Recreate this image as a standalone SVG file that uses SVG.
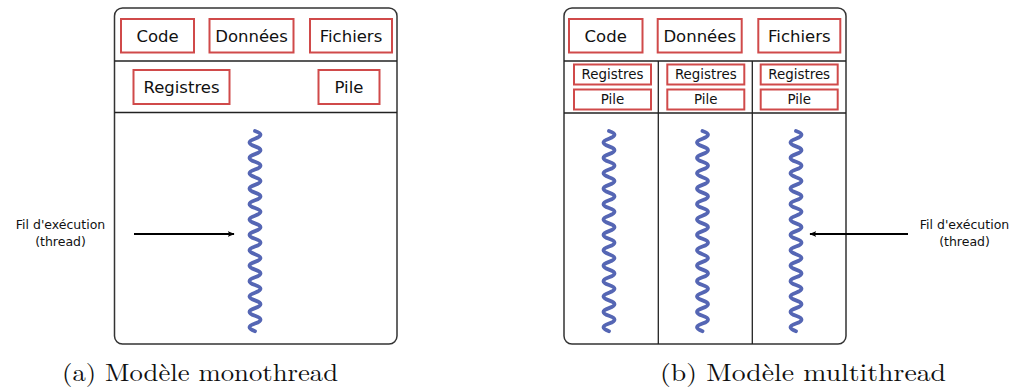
<svg xmlns="http://www.w3.org/2000/svg" width="1016" height="392" viewBox="0 0 1016 392">
<defs>
<style>
.frame{fill:#fff;stroke:#333;stroke-width:1.5}
.sep{stroke:#222;stroke-width:1.3;fill:none}
.rb{fill:#fff;stroke:#d04a4a;stroke-width:2}
.t{font-family:"DejaVu Sans",sans-serif;font-size:16.5px;fill:#111;text-anchor:middle}
.ts{font-family:"DejaVu Sans",sans-serif;font-size:13.4px;fill:#111;text-anchor:middle}
.lbl{font-family:"DejaVu Sans",sans-serif;font-size:12.5px;fill:#111;text-anchor:middle}
.cap{font-family:"Latin Modern Roman","Liberation Serif",serif;font-size:24px;fill:#111}
.wave{fill:none;stroke:#5566b4;stroke-width:3.8;stroke-linecap:round}
.arr{stroke:#000;stroke-width:2;fill:none;marker-end:url(#ah)}
</style>
<marker id="ah" viewBox="0 0 10 10" refX="9" refY="5" markerWidth="7" markerHeight="7" orient="auto" markerUnits="userSpaceOnUse">
<path d="M0,1 L10,5 L0,9 L2.5,5 Z" fill="#000"/>
</marker>
<path id="w" class="wave" d="M0 131 q11 3.85 0 7.7 t0 7.7 t0 7.7 t0 7.7 t0 7.7 t0 7.7 t0 7.7 t0 7.7 t0 7.7 t0 7.7 t0 7.7 t0 7.7 t0 7.7 t0 7.7 t0 7.7 t0 7.7 t0 7.7 t0 7.7 t0 7.7 t0 7.7 t0 7.7 t0 7.7 t0 7.7 t0 7.7 t0 7.7 t0 7.7"/>
</defs>
<rect width="1016" height="392" fill="#fff"/>

<g id="mono">
<rect class="frame" x="114.5" y="8" width="282.5" height="336" rx="8"/>
<line class="sep" x1="114.5" y1="61" x2="397" y2="61"/>
<line class="sep" x1="114.5" y1="112.5" x2="397" y2="112.5"/>
<g id="mono-code"><rect class="rb" x="121" y="19" width="73" height="33.5"/><text class="t" x="157.5" y="42">Code</text></g>
<g id="mono-donnees"><rect class="rb" x="209.5" y="19" width="84" height="33.5"/><text class="t" x="251.5" y="42">Données</text></g>
<g id="mono-fichiers"><rect class="rb" x="310" y="19" width="82" height="33.5"/><text class="t" x="351" y="42">Fichiers</text></g>
<g id="mono-registres"><rect class="rb" x="133.5" y="70" width="96" height="34"/><text class="t" x="181.5" y="93">Registres</text></g>
<g id="mono-pile"><rect class="rb" x="318.5" y="70" width="61" height="34"/><text class="t" x="349" y="93">Pile</text></g>
<g id="mono-thread"><use href="#w" x="255"/></g>
</g>

<g id="multi">
<rect class="frame" x="564" y="8" width="282" height="336" rx="8"/>
<line class="sep" x1="564" y1="61" x2="846" y2="61"/>
<line class="sep" x1="564" y1="113" x2="846" y2="113"/>
<line class="sep" x1="658.3" y1="61" x2="658.3" y2="344"/>
<line class="sep" x1="752.3" y1="61" x2="752.3" y2="344"/>
<g id="multi-code"><rect class="rb" x="569" y="19" width="73.5" height="33.5"/><text class="t" x="605.7" y="42">Code</text></g>
<g id="multi-donnees"><rect class="rb" x="657.7" y="19" width="84" height="33.5"/><text class="t" x="699.7" y="42">Données</text></g>
<g id="multi-fichiers"><rect class="rb" x="758.3" y="19" width="82" height="33.5"/><text class="t" x="799.3" y="42">Fichiers</text></g>
<g id="t1-registres"><rect class="rb" x="574" y="64.5" width="77" height="20"/><text class="ts" x="612.5" y="79.3">Registres</text></g>
<g id="t1-pile"><rect class="rb" x="574" y="89.5" width="77" height="20"/><text class="ts" x="612.5" y="104.3">Pile</text></g>
<g id="t2-registres"><rect class="rb" x="667.3" y="64.5" width="77" height="20"/><text class="ts" x="705.8" y="79.3">Registres</text></g>
<g id="t2-pile"><rect class="rb" x="667.3" y="89.5" width="77" height="20"/><text class="ts" x="705.8" y="104.3">Pile</text></g>
<g id="t3-registres"><rect class="rb" x="760.7" y="64.5" width="77" height="20"/><text class="ts" x="799.2" y="79.3">Registres</text></g>
<g id="t3-pile"><rect class="rb" x="760.7" y="89.5" width="77" height="20"/><text class="ts" x="799.2" y="104.3">Pile</text></g>
<g id="t1-thread"><use href="#w" x="609"/></g>
<g id="t2-thread"><use href="#w" x="702.5"/></g>
<g id="t3-thread"><use href="#w" x="796"/></g>
</g>

<g id="label-left"><text class="lbl" x="60.5" y="229">Fil d'exécution</text><text class="lbl" x="60.5" y="246">(thread)</text></g>
<g id="label-right"><text class="lbl" x="964.5" y="229">Fil d'exécution</text><text class="lbl" x="964.5" y="246">(thread)</text></g>

<g id="connectors">
<line class="arr" x1="134" y1="234" x2="234" y2="234"/>
<line class="arr" x1="908" y1="234" x2="810" y2="234"/>
</g>

<text class="cap" x="62" y="381" textLength="276" lengthAdjust="spacingAndGlyphs">(a) Modèle monothread</text>
<text class="cap" x="660" y="381" textLength="286" lengthAdjust="spacingAndGlyphs">(b) Modèle multithread</text>
</svg>
